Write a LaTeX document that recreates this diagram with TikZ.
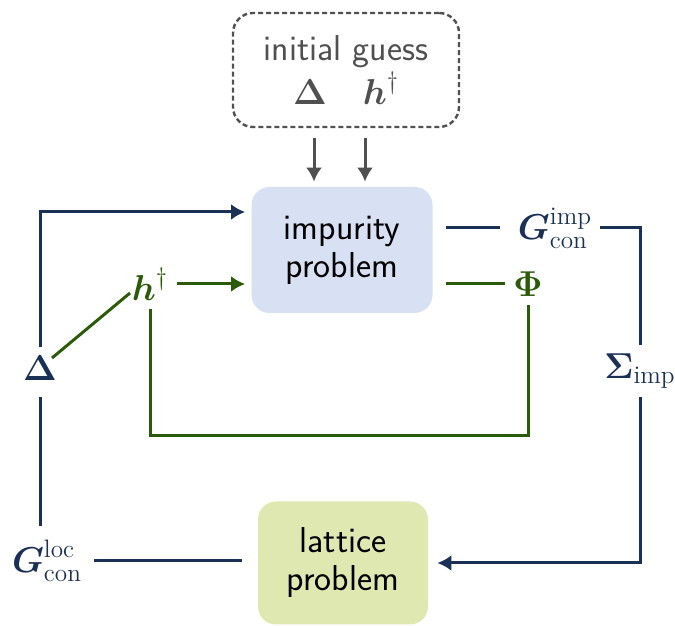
\documentclass[tikz,border=0pt]{standalone}
\usepackage{fix-cm}
\usepackage{amsmath}
\usepackage{amssymb}
\usepackage{fontspec}
\usepackage{tikz}
\usetikzlibrary{arrows.meta,shapes,positioning}
\usepackage{xcolor}
\definecolor{dmnavy}{RGB}{27,48,85}
\definecolor{dmgreen}{RGB}{43,90,11}
\definecolor{dmgray}{RGB}{80,80,80}
\definecolor{dmlightblue}{RGB}{215,225,243}
\definecolor{dmlightgreen}{RGB}{223,232,177}
\tikzstyle{problem} = [rectangle, rounded corners=9pt, minimum width=90.5pt, minimum height=63pt, align=center, font=\sffamily\fontsize{18}{19}\selectfont]
\tikzstyle{guessbox} = [rectangle, rounded corners=10pt, draw=dmgray, dash pattern=on 2.5pt off 1.5pt, line width=1.2pt, minimum width=113pt, minimum height=57pt, align=center, text=dmgray, font=\sffamily\fontsize{18}{20}\selectfont]
\tikzstyle{quantity} = [inner sep=4pt, font=\fontsize{18}{19}\selectfont]
\tikzstyle{navyline} = [line width=1.5pt, color=dmnavy]
\tikzstyle{navyarrow} = [navyline, -{Latex[length=7pt,width=8pt]}]
\tikzstyle{greenline} = [line width=1.5pt, color=dmgreen]
\tikzstyle{greenarrow} = [greenline, -{Latex[length=7pt,width=8pt]}]
\tikzstyle{grayarrow} = [line width=1.5pt, color=dmgray, -{Latex[length=7pt,width=8pt]}]

\begin{document}
\begin{tikzpicture}[x=0.5pt,y=0.5pt]
\useasboundingbox (0,0) rectangle (675,626);

% boxes
\node[guessbox] (guess) at (346,556) {initial guess\\[1pt] $\boldsymbol{\Delta}\quad\boldsymbol{h}^{\dagger}$};
\node[problem, fill=dmlightblue] (imp) at (342,376) {impurity\\problem};
\node[problem, fill=dmlightgreen, minimum width=85pt, minimum height=61.5pt] (lat) at (343,63) {lattice\\problem};

% quantities
\node[quantity, text=dmnavy] (delta) at (40,258) {$\boldsymbol{\Delta}$};
\node[quantity, text=dmgreen] (hdag) at (150,342) {$\boldsymbol{h}^{\dagger}$};
\node[quantity, text=dmgreen] (phi) at (528,342) {$\boldsymbol{\Phi}$};
\node[quantity, text=dmnavy] (gimp) at (555,398) {$\boldsymbol{G}^{\mathrm{imp}}_{\mathrm{con}}$};
\node[quantity, text=dmnavy] (sigma) at (640,255) {$\boldsymbol{\Sigma}_{\mathrm{imp}}$};
\node[quantity, text=dmnavy] (gloc) at (47,65) {$\boldsymbol{G}^{\mathrm{loc}}_{\mathrm{con}}$};
\coordinate (loopbot) at (340,190);

% initial guess into impurity problem
\draw[grayarrow, shorten <=5pt, shorten >=2.5pt] ([xshift=-14pt]imp.north |- guess.south) -- ([xshift=-14pt]imp.north);
\draw[grayarrow, shorten <=5pt, shorten >=2.5pt] ([xshift=11.5pt]imp.north |- guess.south) -- ([xshift=11.5pt]imp.north);

% hybridisation loop
\draw[navyarrow, shorten >=3pt] (delta) |- ([yshift=19pt]imp.west);
\draw[navyline, shorten <=4pt, shorten >=3pt] (delta.south) -- (delta.south |- gloc.north);
\draw[navyline, shorten <=2pt, shorten >=8pt] (gloc) -- (lat.west |- gloc);

% embedding loop
\draw[greenline] ([shift={(6pt,5pt)}]delta.center) -- ([shift={(-10pt,-4.5pt)}]hdag.center);
\draw[greenarrow, shorten >=3pt] (hdag) -- (imp.west |- hdag);
\draw[greenline] (hdag.south) |- (loopbot) -| (phi.south);
\draw[greenline, shorten <=6.5pt] (imp.east |- phi) -- (phi);

% self-energy
\draw[navyline, shorten <=6.5pt, shorten >=5pt] (imp.east |- gimp) -- (gimp);
\draw[navyline] (gimp) -| (sigma);
\draw[navyarrow, shorten >=4.5pt] (sigma) |- (lat.east);
\end{tikzpicture}
\end{document}
